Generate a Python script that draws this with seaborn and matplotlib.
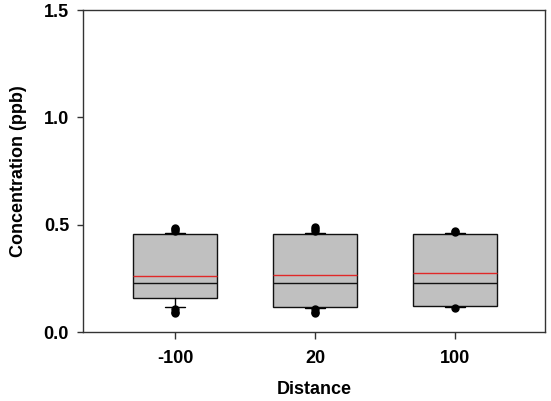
import matplotlib
matplotlib.use("Agg")
import matplotlib.pyplot as plt
import seaborn as sns

distances = ["-100", "20", "100"]
q1 = [0.160, 0.116, 0.123]
median = [0.228, 0.230, 0.228]
q3 = [0.456, 0.456, 0.456]
mean = [0.262, 0.265, 0.275]
whisker_low = [0.118, 0.112, 0.117]
whisker_high = [0.462, 0.462, 0.460]
outliers = [
    [0.470, 0.478, 0.485, 0.105, 0.095, 0.087],
    [0.470, 0.480, 0.488, 0.105, 0.095, 0.090],
    [0.468, 0.472, 0.110],
]
y_ticks = [0.0, 0.5, 1.0, 1.5]

sns.set_style("ticks")
plt.rcParams["font.family"] = ["Liberation Sans", "DejaVu Sans"]
plt.rcParams["text.color"] = "black"
plt.rcParams["axes.labelcolor"] = "black"
plt.rcParams["xtick.color"] = "black"
plt.rcParams["ytick.color"] = "black"

fig = plt.figure(figsize=(5.51, 4.01), dpi=100)
ax = fig.add_axes([0.1506, 0.172, 0.9885 - 0.1506, 0.975 - 0.172])

stats = []
for i, d in enumerate(distances):
    stats.append(dict(label=d, q1=q1[i], med=median[i], q3=q3[i], mean=mean[i],
                      whislo=whisker_low[i], whishi=whisker_high[i],
                      fliers=outliers[i]))

ax.bxp(stats, positions=range(len(distances)), widths=0.6, patch_artist=True,
       showmeans=True, meanline=True,
       boxprops=dict(facecolor="#c0c0c0", edgecolor="#111111", linewidth=1.0),
       medianprops=dict(color="#111111", linewidth=1.0),
       meanprops=dict(color="#e02828", linewidth=1.0, linestyle="-"),
       whiskerprops=dict(color="black", linewidth=1.0),
       capprops=dict(color="black", linewidth=1.0),
       capwidths=0.14,
       flierprops=dict(marker="o", markerfacecolor="black", markeredgecolor="black",
                       markersize=5, linestyle="none"))

ax.set_xlim(-0.657, 2.64)
ax.set_ylim(0, 1.5)
ax.set_yticks(y_ticks)
ax.set_yticklabels([f"{v:.1f}" for v in y_ticks])
ax.set_xticks(range(len(distances)))
ax.set_xticklabels(distances)

for s in ax.spines.values():
    s.set_visible(True)
    s.set_color("#333333")
    s.set_linewidth(1.0)

ax.tick_params(axis="x", direction="out", length=5, width=1, color="#333333",
               labelcolor="black", labelsize=13, pad=8)
ax.tick_params(axis="y", direction="out", length=4, width=1, color="#333333",
               labelcolor="black", labelsize=13, pad=6)
for lab in ax.get_xticklabels() + ax.get_yticklabels():
    lab.set_fontweight("bold")

ax.set_xlabel("Distance", fontsize=13, fontweight="bold", labelpad=10, color="black")
ax.set_ylabel("Concentration (ppb)", fontsize=13, fontweight="bold", labelpad=12,
              color="black")

fig.savefig("out.png", dpi=100)
